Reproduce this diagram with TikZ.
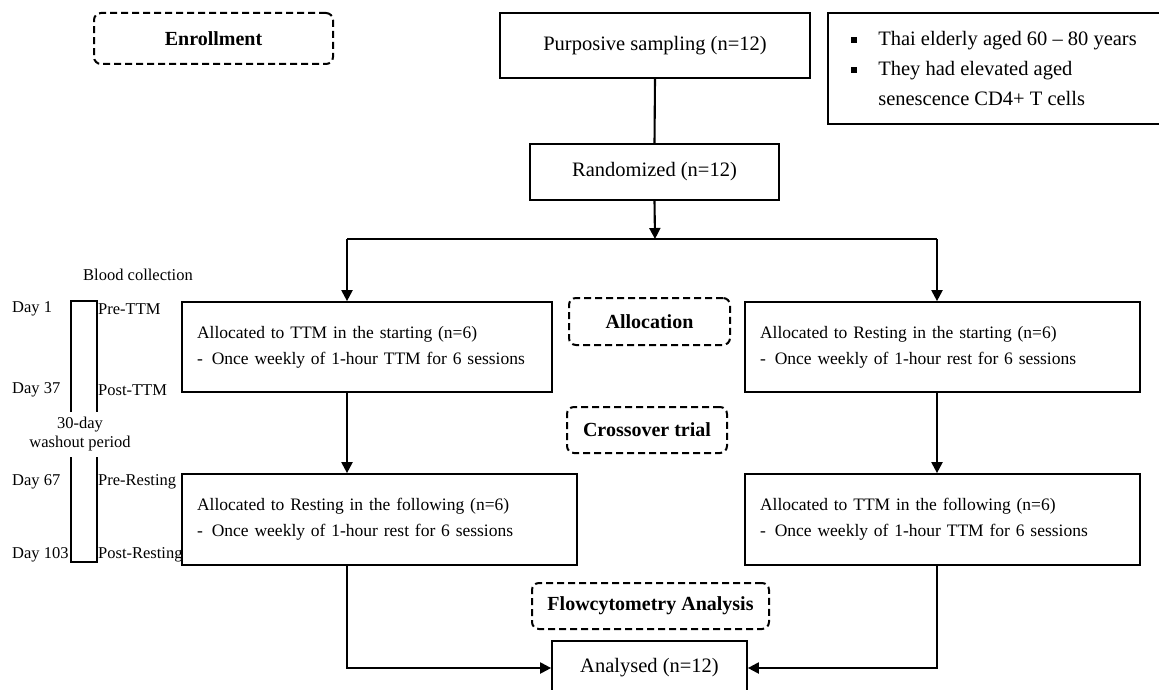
\documentclass[tikz,border=0pt]{standalone}
\usepackage{fontspec}
\setmainfont{Liberation Serif}
\usetikzlibrary{arrows.meta}
\newcommand{\sqbul}{\makebox[27pt][l]{\raisebox{3pt}{\rule{5.5pt}{5.5pt}}}}
\begin{document}
\begin{tikzpicture}[x=1pt,y=-1pt,
  box/.style={draw, line width=1.7pt, inner sep=0pt, align=center, font=\fontsize{20.5}{30}\selectfont},
  gbox/.style={draw, line width=1.7pt, inner ysep=0pt, inner xsep=15pt, align=left, font=\fontsize{17.5}{26}\selectfont},
  dbox/.style={draw, dash pattern=on 7pt off 4pt, rounded corners=7pt, line width=2pt, inner sep=0pt, font=\fontsize{20}{24}\selectfont\bfseries},
  arr/.style={line width=2.1pt, -{Triangle[length=11pt,width=11pt]}},
  ln/.style={line width=2.1pt},
  tl/.style={inner sep=0pt, font=\fontsize{16.5}{19}\selectfont},
  tlbox/.style={line width=1.7pt}]
\useasboundingbox (0,0) rectangle (1159,690);

% headings
\node[dbox, minimum width=239pt, minimum height=51pt] (enroll) at (213.5,38.5) {Enrollment};
\node[dbox, minimum width=161pt, minimum height=47pt] (alloc) at (649.5,321.5) {Allocation};
\node[dbox, minimum width=160pt, minimum height=46pt] (cross) at (647,430) {Crossover trial};
\node[dbox, minimum width=237pt, minimum height=46pt] (flow) at (650.5,606) {Flowcytometry Analysis};

% main boxes
\node[box, minimum width=310pt, minimum height=65pt] (purp) at (655,45.5) {Purposive sampling (n=12)};
\node[box, minimum width=332pt, minimum height=111pt, align=left] (crit) at (994,68.5)
  {\sqbul Thai elderly aged 60 – 80 years\\
   \sqbul They had elevated aged\\
   \hspace*{27pt}senescence CD4+ T cells};
\node[box, minimum width=249pt, minimum height=56pt] (rand) at (654.5,172) {Randomized (n=12)};

\node[gbox, text width=340pt, minimum height=90pt] (A1) at (367,347)
  {Allocated to TTM in the starting (n=6)\\
   -\hspace{9pt}Once weekly of 1-hour TTM for 6 sessions};
\node[gbox, text width=365pt, minimum height=90pt] (B1) at (942.5,347)
  {Allocated to Resting in the starting (n=6)\\
   -\hspace{9pt}Once weekly of 1-hour rest for 6 sessions};
\node[gbox, text width=365pt, minimum height=91pt] (A2) at (379.5,519.5)
  {Allocated to Resting in the following (n=6)\\
   -\hspace{9pt}Once weekly of 1-hour rest for 6 sessions};
\node[gbox, text width=365pt, minimum height=91pt] (B2) at (942.5,519.5)
  {Allocated to TTM in the following (n=6)\\
   -\hspace{9pt}Once weekly of 1-hour TTM for 6 sessions};
\node[box, minimum width=195pt, minimum height=54pt] (anal) at (649.5,668) {Analysed (n=12)};

% connectors
\coordinate (sL) at (347,239);
\coordinate (sM) at (655,239);
\coordinate (sR) at (937,239);
\draw[ln] (purp.south) -- (rand.north);
\draw[arr] (rand.south) -- (sM);
\draw[ln] (sL) -- (sR);
\draw[arr] (sL) -- (A1.north -| sL);
\draw[arr] (sR) -- (B1.north -| sR);
\draw[arr] (A1.south -| sL) -- (A2.north -| sL);
\draw[arr] (B1.south -| sR) -- (B2.north -| sR);
\draw[arr] (A2.south -| sL) |- (anal.west);
\draw[arr] (B2.south -| sR) |- (anal.east);

% timeline
\node[tl] (blood) at (138,275) {Blood collection};
\draw[tlbox] (71,412) -- (71,301) -- (97,301) -- (97,412);
\draw[tlbox] (71,457) -- (71,562) -- (97,562) -- (97,457);
\node[tl, anchor=west] (d1) at (12,309) {Day 1};
\node[tl, anchor=west] (d37) at (12,390) {Day 37};
\node[tl, anchor=west] (d67) at (12,482) {Day 67};
\node[tl, anchor=west] (d103) at (12,555) {Day 103};
\node[tl, anchor=west] (p1) at (98,309) {Pre-TTM};
\node[tl, anchor=west] (p2) at (98,390) {Post-TTM};
\node[tl, anchor=west] (p3) at (98,482) {Pre-Resting};
\node[tl, anchor=west] (p4) at (98,555) {Post-Resting};
\node[tl, align=center] (wash) at (80,434.5) {30-day\\washout period};
\end{tikzpicture}
\end{document}
